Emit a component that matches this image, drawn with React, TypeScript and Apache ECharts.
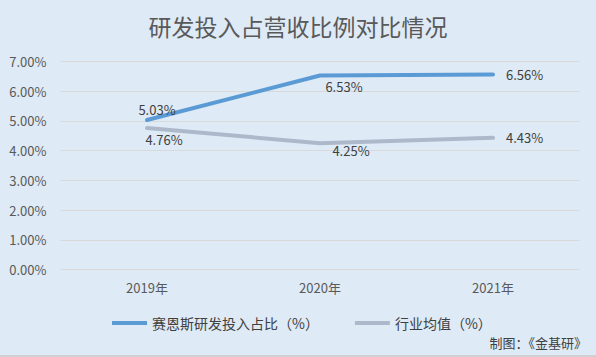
import React, { useEffect, useRef } from "react";
import * as echarts from "echarts";

const categories = ["2019年", "2020年", "2021年"];
const companySeriesName = "赛恩斯研发投入占比（%）";
const industrySeriesName = "行业均值（%）";
const companyValues = [5.03, 6.53, 6.56];
const industryValues = [4.76, 4.25, 4.43];
const yTicks = { min: 0, max: 7, interval: 1 };

export default function App() {
  const ref = useRef<HTMLDivElement>(null);
  useEffect(() => {
    const chart = echarts.init(ref.current!, null, { renderer: "svg" });
    const font = "'Noto Sans CJK SC', 'Noto Sans', sans-serif";
    chart.setOption({
      animation: false,
      backgroundColor: "#DEEAF6",
      textStyle: { fontFamily: font },
      title: {
        text: "研发投入占营收比例对比情况",
        left: "center",
        top: 9,
        textStyle: { fontSize: 23, fontWeight: "normal", color: "#595959", fontFamily: font },
      },
      graphic: [
        {
          type: "text",
          right: 9,
          top: 336,
          style: { text: "制图：《金基研》", fontSize: 13, fill: "#404040", fontFamily: font },
        },
        {
          type: "rect",
          left: 0,
          top: 355,
          shape: { width: 596, height: 2 },
          style: { fill: "#D0D0D0" },
        },
      ],
      legend: {
        bottom: 22,
        left: 107,
        itemWidth: 35,
        itemHeight: 4,
        itemGap: 36,
        icon: "rect",
        textStyle: { fontSize: 14, color: "#404040", fontFamily: font },
        data: [companySeriesName, industrySeriesName],
      },
      grid: { left: 60.5, right: 16.5, top: 61.5, bottom: 87.5 },
      xAxis: {
        type: "category",
        data: categories,
        axisLine: { show: false },
        axisTick: { show: false },
        axisLabel: { color: "#595959", fontSize: 13, margin: 11 },
      },
      yAxis: {
        type: "value",
        min: yTicks.min,
        max: yTicks.max,
        interval: yTicks.interval,
        axisLabel: {
          color: "#595959",
          fontSize: 13,
          margin: 14,
          formatter: (v: number) => v.toFixed(2) + "%",
        },
        splitLine: { lineStyle: { color: "#D9D9D9", width: 1 } },
      },
      series: [
        {
          name: companySeriesName,
          type: "line",
          data: companyValues.map((v, i) => ({
            value: v,
            label: {
              position: i === 0 ? "top" : i === 1 ? "bottom" : "right",
              offset: i === 0 ? [10, 1] : i === 1 ? [24, 0] : [8, 0],
            },
          })),
          symbol: "circle",
          symbolSize: 0,
          showSymbol: true,
          lineStyle: { color: "#5B9BD5", width: 4, cap: "round" },
          itemStyle: { color: "#5B9BD5" },
          label: {
            show: true,
            fontSize: 13,
            color: "#404040",
            formatter: (p: any) => p.value.toFixed(2) + "%",
          },
        },
        {
          name: industrySeriesName,
          type: "line",
          data: industryValues.map((v, i) => ({
            value: v,
            label: {
              position: i === 2 ? "right" : "bottom",
              offset: i === 0 ? [17, 0] : i === 1 ? [31, -4] : [8, 0],
            },
          })),
          symbol: "circle",
          symbolSize: 0,
          showSymbol: true,
          lineStyle: { color: "#ADB9CA", width: 4, cap: "round" },
          itemStyle: { color: "#ADB9CA" },
          label: {
            show: true,
            fontSize: 13,
            color: "#404040",
            formatter: (p: any) => p.value.toFixed(2) + "%",
          },
        },
      ],
    });
    return () => chart.dispose();
  }, []);
  return <div ref={ref} style={{ width: 596, height: 357, position: "fixed", left: 0, top: 0 }} />;
}
